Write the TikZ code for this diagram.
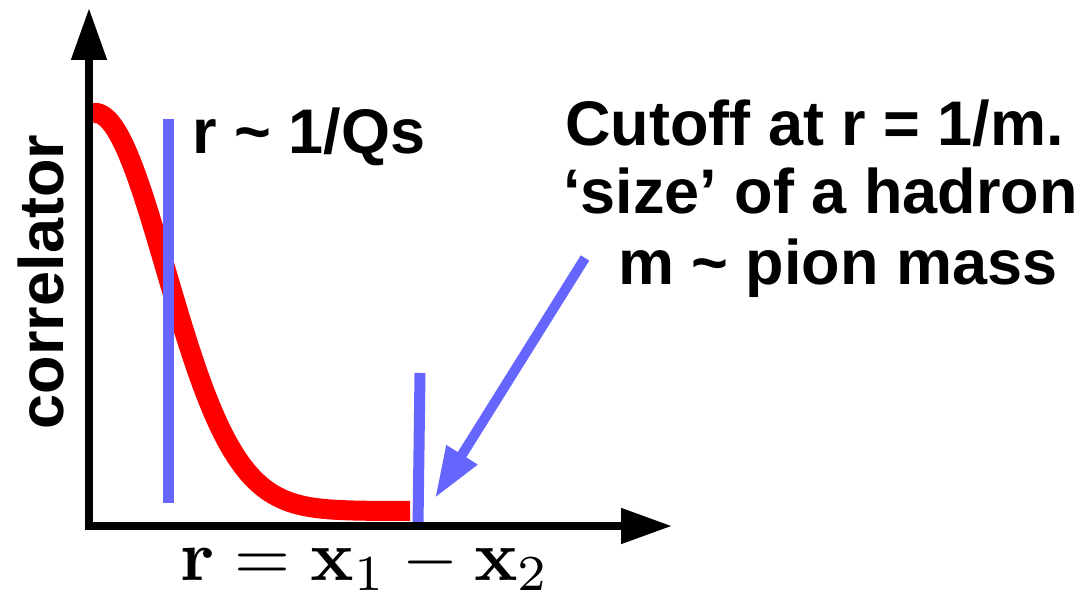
\documentclass[tikz,border=0pt]{standalone}
\usepackage[no-math]{fontspec}
\setmainfont{Liberation Sans}
\usetikzlibrary{arrows.meta}
\definecolor{myblue}{HTML}{6666FF}
\begin{document}
\begin{tikzpicture}[x=1pt,y=-1pt,
  axis/.style={line width=8pt, {Triangle[length=52pt,width=34pt]}-{Triangle[length=51pt,width=34pt]}},
  blueline/.style={myblue, line width=11pt},
  bluearrow/.style={myblue, line width=10pt, -{Triangle[length=51pt,width=34pt]}},
  curve/.style={red, line width=20pt},
  lbl/.style={font=\fontsize{63}{69}\selectfont\bfseries, inner sep=0pt}]
\useasboundingbox (0,0) rectangle (1085,602);
% coordinates
\coordinate (ytip) at (89,8);
\coordinate (xtip) at (672,526);
\coordinate (qtop) at (168,119);
\coordinate (qbot) at (168,503);
\coordinate (mtop) at (420,373);
\coordinate (mbot) at (418,526);
\coordinate (astart) at (585,258);
\coordinate (atip) at (435,498);
% correlator curve
\draw[curve, domain=93:410, samples=150] plot (\x, {511-398*exp(0-((\x-95)/100)^2)});
% blue markers
\draw[blueline] (qtop) -- (qbot);
\draw[blueline] (mtop) -- (mbot);
% axes
\draw[axis] (ytip) |- (xtip);
% arrow
\draw[bluearrow] (astart) -- (atip);
% labels
\node[lbl, anchor=base west] (qs) at (192,153) {r \char`~\ 1/Qs};
\node[lbl, anchor=base west] (l1) at (565,145) {Cutoff at r = 1/m.};
\node[lbl, anchor=base west] (l2) at (563,213) {‘size’ of a hadron};
\node[lbl, anchor=base west] (l3) at (618,284) {m \char`~\ pion mass};
\node[lbl, anchor=base, rotate=90] (yl) at (63,282) {correlator};
\node[inner sep=0pt, anchor=base west] (xl) at (180,580) {\scalebox{7.2}{$\mathbf{r}=\mathbf{x}_1-\mathbf{x}_2$}};
\end{tikzpicture}
\end{document}
